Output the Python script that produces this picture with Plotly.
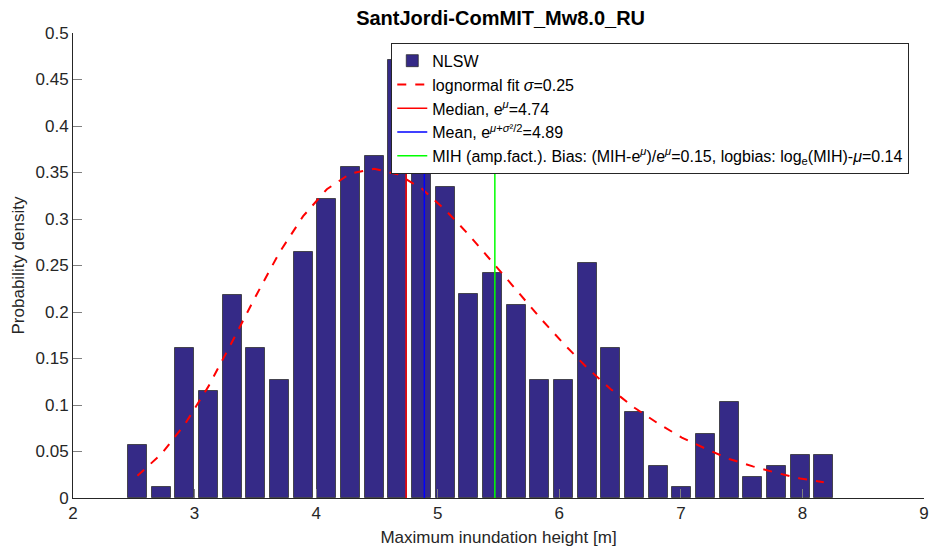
import plotly.graph_objects as go

# ---- data ----
bin_centers = [2.530, 2.725, 2.919, 3.114, 3.309, 3.503, 3.698, 3.893, 4.088, 4.282,
               4.477, 4.672, 4.866, 5.061, 5.256, 5.451, 5.645, 5.840, 6.035, 6.229,
               6.424, 6.619, 6.814, 7.008, 7.203, 7.398, 7.592, 7.787, 7.982, 8.176]
density = [0.0575, 0.0115, 0.161, 0.115, 0.218, 0.161, 0.1265, 0.264, 0.322, 0.356,
           0.368, 0.471, 0.380, 0.334, 0.219, 0.2415, 0.207, 0.1265, 0.1265, 0.253,
           0.161, 0.092, 0.0345, 0.0115, 0.069, 0.1035, 0.023, 0.0345, 0.046, 0.046]
fit_pdf = [0.024, 0.047, 0.079, 0.120, 0.168, 0.217, 0.264, 0.303, 0.332, 0.349,
           0.354, 0.348, 0.333, 0.310, 0.283, 0.254, 0.224, 0.194, 0.166, 0.140,
           0.117, 0.097, 0.080, 0.065, 0.053, 0.042, 0.034, 0.027, 0.021, 0.017]
bin_width = 0.1947
median_val = 4.74
mean_val = 4.89
mih_val = 5.47
line_y = [0, 0.48]
x_ticks = [2, 3, 4, 5, 6, 7, 8, 9]
y_ticks = [0, 0.05, 0.1, 0.15, 0.2, 0.25, 0.3, 0.35, 0.4, 0.45, 0.5]
y_tick_labels = ["0", "0.05", "0.1", "0.15", "0.2", "0.25", "0.3", "0.35", "0.4", "0.45", "0.5"]

FONT = "Liberation Sans, Arial, Helvetica, sans-serif"
TXT = "#262626"

fig = go.Figure()
fig.add_trace(go.Bar(
    x=bin_centers, y=density, width=bin_width * 0.8, name="NLSW",
    marker=dict(color="#352A87", line=dict(color="rgba(40,40,40,0.75)", width=1)),
))
fig.add_trace(go.Scatter(
    x=bin_centers, y=fit_pdf, mode="lines", name="lognormal fit <i>σ</i>=0.25",
    line=dict(color="#FF0000", width=2, dash="dash"),
))
fig.add_trace(go.Scatter(
    x=[median_val, median_val], y=line_y, mode="lines", name="Median, e<sup><i>μ</i></sup>=4.74",
    line=dict(color="#FF0000", width=1.5),
))
fig.add_trace(go.Scatter(
    x=[mean_val, mean_val], y=line_y, mode="lines",
    name="Mean, e<sup><i>μ</i>+<i>σ</i>²/2</sup>=4.89",
    line=dict(color="#0000FF", width=1.5),
))
fig.add_trace(go.Scatter(
    x=[mih_val, mih_val], y=line_y, mode="lines",
    name="MIH (amp.fact.). Bias: (MIH-e<sup><i>μ</i></sup>)/e<sup><i>μ</i></sup>=0.15, logbias: log<sub>e</sub>(MIH)-<i>μ</i>=0.14",
    line=dict(color="#00FF00", width=1.5),
))

fig.update_layout(
    width=935, height=557,
    margin=dict(l=73, r=6, t=33, b=59),
    paper_bgcolor="white", plot_bgcolor="white",
    font=dict(family=FONT, color=TXT, size=16),
    title=dict(text="<b>SantJordi-ComMIT_Mw8.0_RU</b>", x=0.5354, xanchor="center",
               y=0.968, yanchor="middle", font=dict(size=20, color="#000000", family=FONT)),
    showlegend=True,
    legend=dict(x=0.374, y=0.979, xanchor="left", yanchor="top",
                bgcolor="white", bordercolor="#262626", borderwidth=1,
                font=dict(size=16, color="#000000", family=FONT),
                itemwidth=30, tracegroupgap=0),
    bargap=0,
)
fig.update_xaxes(
    range=[2, 9], tickvals=x_ticks, ticks="inside", ticklen=9, tickwidth=1,
    tickcolor="#808080", showline=True, linecolor=TXT, linewidth=1,
    showgrid=False, zeroline=False, tickfont=dict(size=17, color=TXT),
    title=dict(text="Maximum inundation height [m]", font=dict(size=17, color=TXT), standoff=8),
)
fig.update_yaxes(
    range=[0, 0.5], tickvals=y_ticks, ticktext=y_tick_labels, ticks="inside", ticklen=9,
    tickwidth=1, tickcolor="#808080", showline=True, linecolor=TXT, linewidth=1,
    showgrid=False, zeroline=False, tickfont=dict(size=17, color=TXT),
    title=dict(text="Probability density", font=dict(size=17, color=TXT), standoff=6),
)

fig.write_html("out.html")
